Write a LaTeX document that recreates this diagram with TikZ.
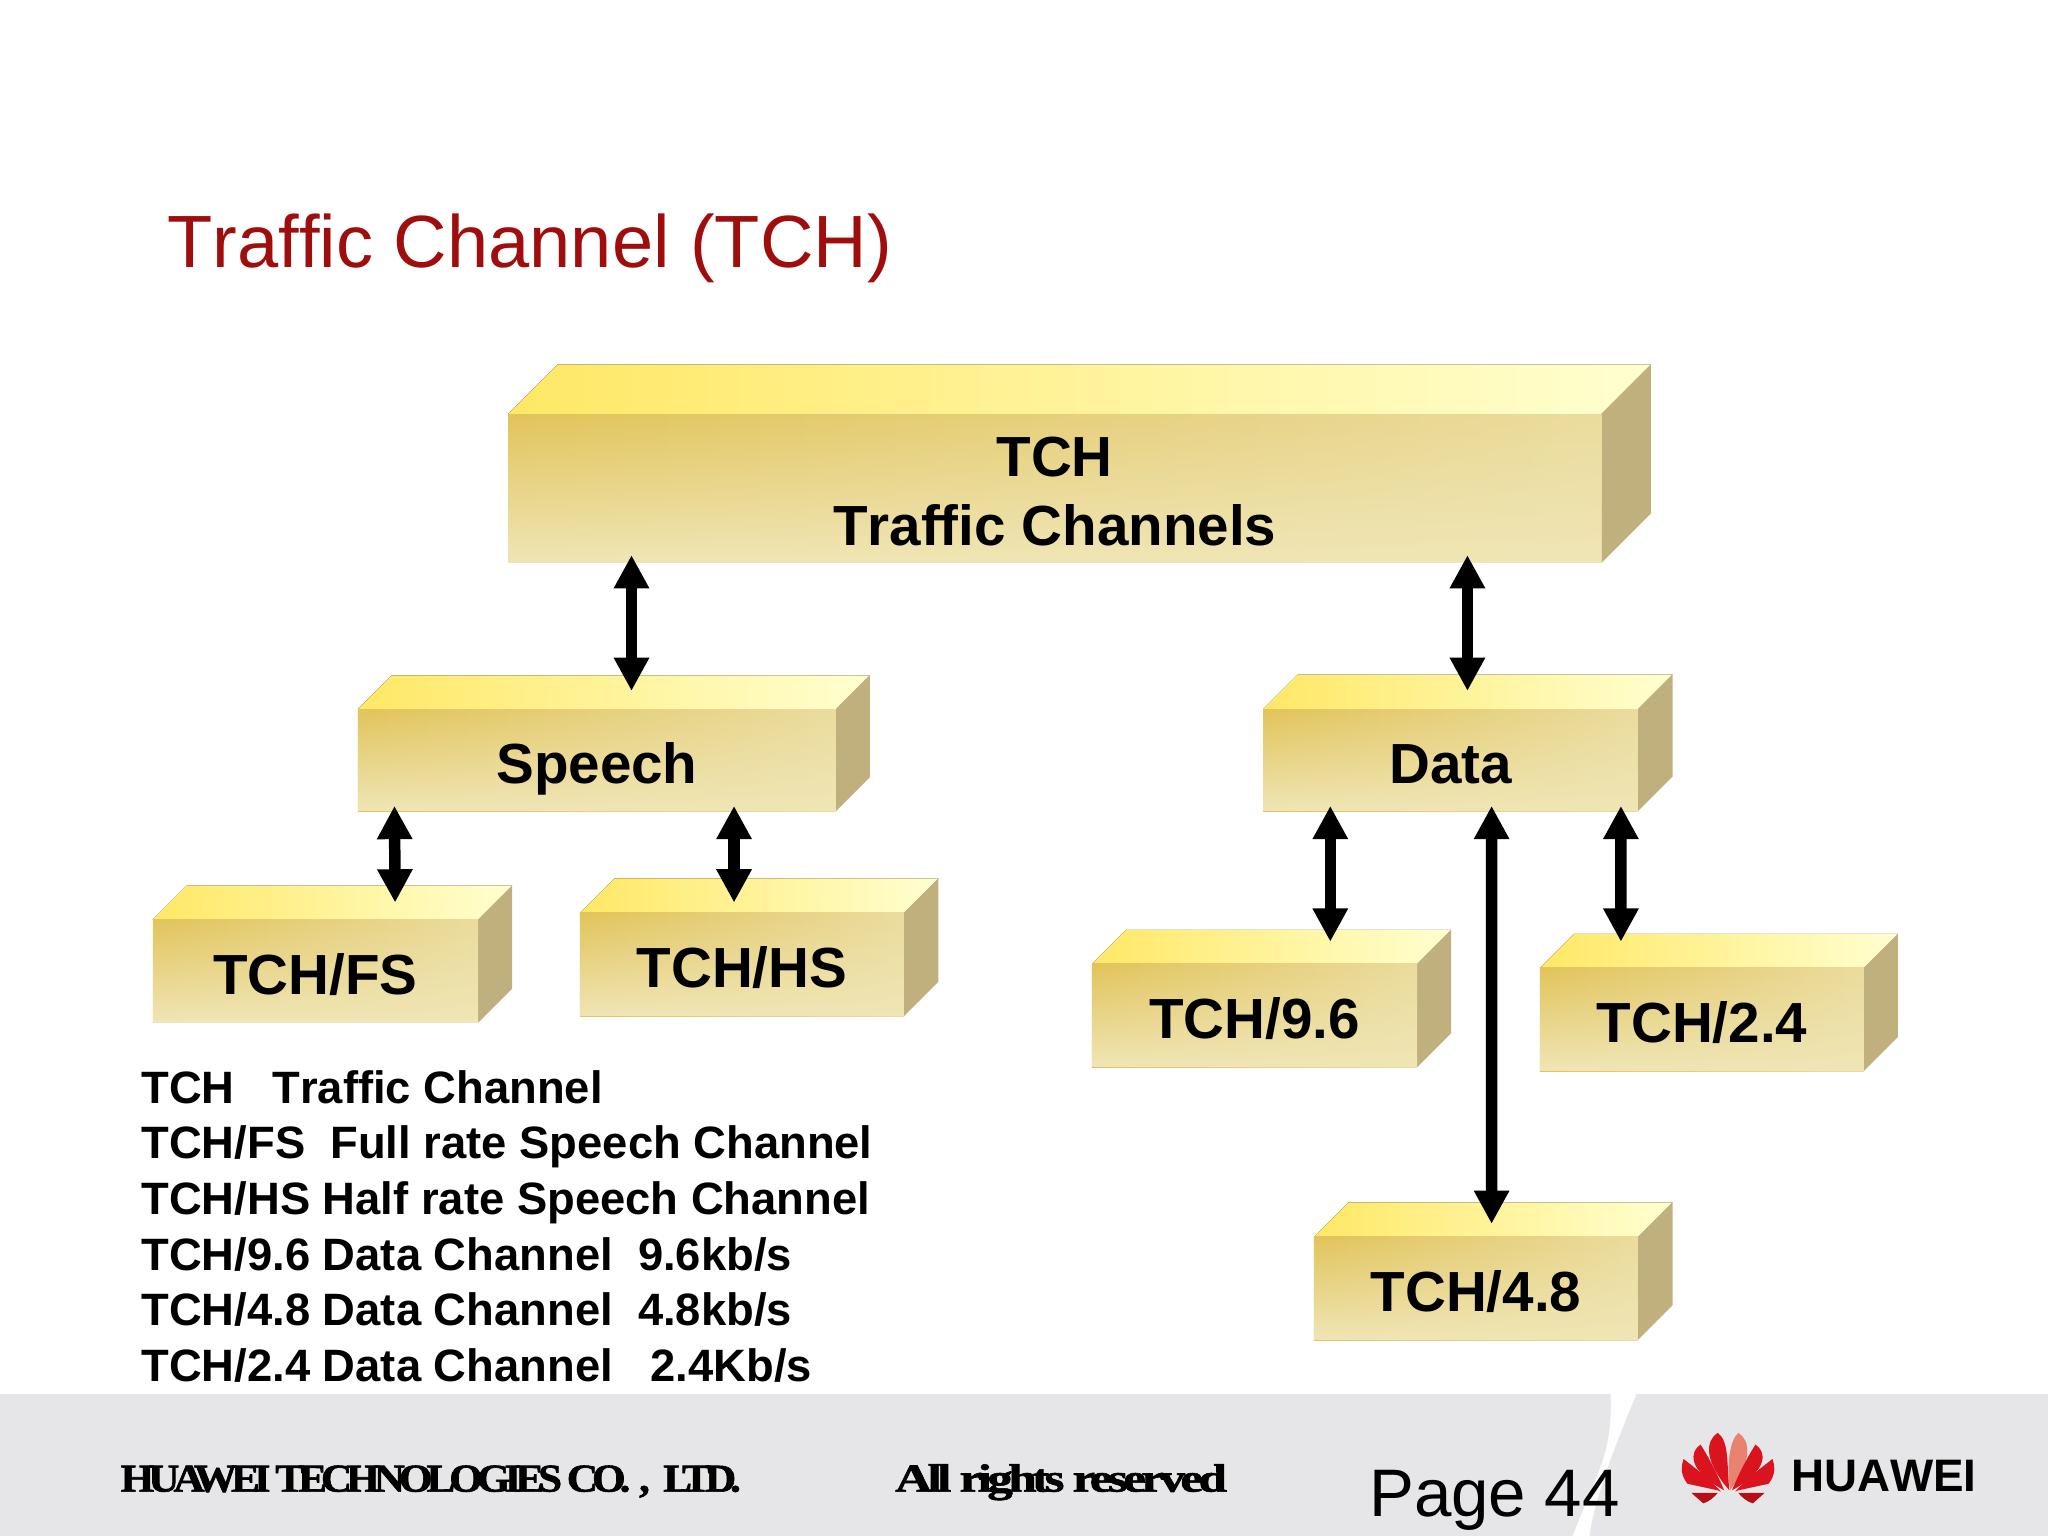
\documentclass[tikz,border=0pt]{standalone}
\usepackage{fontspec}
\usepackage{graphicx}
\setmainfont[RawFeature={-liga,-kern}]{Liberation Sans}
\newfontfamily\footserif{Liberation Serif}
\usetikzlibrary{calc,arrows.meta,fadings}
\definecolor{topa}{HTML}{FFE866}
\definecolor{topb}{HTML}{FFFA8E}
\definecolor{topc}{HTML}{FFFFD0}
\definecolor{fronta}{HTML}{E2C45A}
\definecolor{frontb}{HTML}{EBDC9E}
\definecolor{frontfade}{HTML}{F0E6B6}
\definecolor{sidea}{HTML}{BFB07E}
\definecolor{bandgrey}{HTML}{E6E5E8}
\definecolor{titlered}{HTML}{A00D0D}
\definecolor{hwred}{HTML}{D9141E}
\definecolor{hwdark}{HTML}{B50F18}
\definecolor{hwpale}{HTML}{EA8272}
\tikzset{
  faceshape/.style={inner sep=0pt,outer sep=0pt},
  boxlabel/.style={inner sep=0pt,font=\fontsize{24.65}{30}\selectfont\bfseries,align=center,text=black},
  biarrow/.style={line width=.176cm,{Triangle[length=.51cm,width=.51cm]}-{Triangle[length=.51cm,width=.51cm]}},
  petal/.style={fill=hwred},
  oneline/.style={text height=17.7pt,text depth=0pt,yshift=-0.045cm},
}
% #1 name, #2 x0, #3 y0, #4 x1, #5 y1, #6 depth, #7 label, #8 extra label style
\newcommand{\yellowbox}[8]{%
  \fill[left color=topa,middle color=topb,right color=topc] (#2,#3) -- ({#2+#6},{#3-#6}) -- ({#4+#6},{#3-#6}) -- (#4,#3) -- cycle;
  \fill[sidea] (#4,#3) -- ({#4+#6},{#3-#6}) -- ({#4+#6},{#5-#6}) -- (#4,#5) -- cycle;
  \fill[left color=fronta,right color=frontb] (#2,#3) rectangle (#4,#5);
  \fill[frontfade,path fading=north] (#2,#3) rectangle (#4,#5);
  \node[faceshape,minimum width={(#4-#2)*0.02cm},minimum height={(#5-#3)*0.02cm}] (#1) at ({(#2+#4)/2},{(#3+#5)/2}) {};
  \node[boxlabel,#8] (#1-t) at (#1) {#7};
}
\begin{document}
\begin{tikzpicture}[x=0.02cm,y=-0.02cm]
\useasboundingbox (0,0) rectangle (1568,1176);
\fill[white] (0,0) rectangle (1568,1176);
% footer band
\fill[bandgrey] (0,1067) rectangle (1568,1176);
\fill[white] (1233,1067) .. controls (1234,1085) and (1232,1100) .. (1229,1112) .. controls (1222,1135) and (1212,1155) .. (1204,1176) -- (1217,1176) .. controls (1220,1150) and (1235,1110) .. (1253,1067) -- cycle;
% title
\node[anchor=base west,inner sep=0pt,text=titlered,font=\fontsize{32.27}{38}\selectfont] (title) at (128,205) {Traffic Channel (TCH)};
% boxes
\yellowbox{tch}{389}{317}{1226}{431}{38}{TCH\\Traffic Channels}{yshift=-0.05cm}
\yellowbox{speech}{274}{543}{640}{621}{26}{Speech}{oneline}
\yellowbox{data}{967}{543}{1254}{621}{26.5}{Data}{oneline}
\yellowbox{fs}{117}{704}{366}{783}{26}{TCH/FS}{oneline}
\yellowbox{hs}{444}{699}{692}{778}{26.5}{TCH/HS}{oneline}
\yellowbox{rnine}{836}{738}{1085}{817}{26}{TCH/9.6}{oneline}
\yellowbox{rtwo}{1179}{741}{1427}{820}{26}{TCH/2.4}{oneline}
\yellowbox{rfour}{1006}{947}{1254}{1026}{26.5}{TCH/4.8}{oneline}
% arrows
\draw[biarrow] ($(tch.south)+(-324,-6)$) -- ($(speech.north)+(26.5,-14)$);
\draw[biarrow] ($(tch.south)+(316,-6)$) -- ($(data.north)+(13,-14)$);
\draw[biarrow] ($(speech.south)+(-155,-4)$) -- ($(fs.north)+(61,-13)$);
\draw[biarrow] ($(speech.south)+(105,-4)$) -- ($(hs.north)+(-6,-8)$);
\draw[biarrow] ($(data.south)+(-92,-4)$) -- ($(rnine.north)+(58,-17)$);
\draw[biarrow] ($(data.south)+(130.5,-4)$) -- ($(rtwo.north)+(-62,-20)$);
\draw[biarrow] ($(data.south)+(31.5,-4)$) -- ($(rfour.north)+(12,-10)$);
% legend
\node[anchor=north west,inner sep=0pt,align=left,font=\fontsize{19.77}{24.25}\selectfont\bfseries] (legend) at (108,819) {%
TCH\ \ \ Traffic Channel\\
TCH/FS\ \ Full rate Speech Channel\\
TCH/HS Half rate Speech Channel\\
TCH/9.6 Data Channel\ \ 9.6kb/s\\
TCH/4.8 Data Channel\ \ 4.8kb/s\\
TCH/2.4 Data Channel\ \ \ 2.4Kb/s};
% footer text
\node[anchor=base west,inner sep=0pt] (company) at (92,1142) {\resizebox{9.5cm}{0.4cm}{\footserif\bfseries\addfontfeature{LetterSpace=-14,FakeBold=1.5}HUAWEI TECHNOLOGIES CO.\kern.2em,\kern.2em\ LTD.}};
\node[anchor=base west,inner sep=0pt] (rights) at (685,1142) {\resizebox{5.08cm}{0.42cm}{\footserif\bfseries\addfontfeature{LetterSpace=-9,FakeBold=1.5}All rights reserved}};
\node[anchor=base west,inner sep=0pt,font=\fontsize{29.3}{35}\selectfont] (page) at (1048,1161) {Page 44};
% logo
\begin{scope}[shift={(1323,1097)}]
  \fill[hwpale] (1.5,44) .. controls (-1,24) and (1,6) .. (8,0) .. controls (17,6) and (19,21) .. cycle;
  \fill[petal] (3,44) .. controls (8,32) and (14,20) .. (21,9) .. controls (29,14) and (32,28) .. cycle;
  \fill[petal] (5.5,45) .. controls (13,36) and (24,28) .. (34,20) .. controls (37,28) and (35,34) .. (31,39) -- (8,44) -- cycle;
  \fill[hwdark] (8,46) -- (28,46) -- (19,54) .. controls (15,53) and (10,49) .. cycle;
\end{scope}
\begin{scope}[shift={(1323,1097)},xscale=-1]
  \fill[petal] (-1,44) .. controls (1,24) and (-1,6) .. (8,0) .. controls (17,6) and (19,21) .. cycle;
  \fill[petal] (3,44) .. controls (8,32) and (14,20) .. (21,9) .. controls (29,14) and (32,28) .. cycle;
  \fill[petal] (5.5,45) .. controls (13,36) and (24,28) .. (34,20) .. controls (37,28) and (35,34) .. (31,39) -- (8,44) -- cycle;
  \fill[hwdark] (8,46) -- (28,46) -- (19,54) .. controls (15,53) and (10,49) .. cycle;
\end{scope}
\node[anchor=base west,inner sep=0pt] (brand) at (1371,1142) {\resizebox{2.84cm}{0.48cm}{\bfseries HUAWEI}};
\end{tikzpicture}
\end{document}
